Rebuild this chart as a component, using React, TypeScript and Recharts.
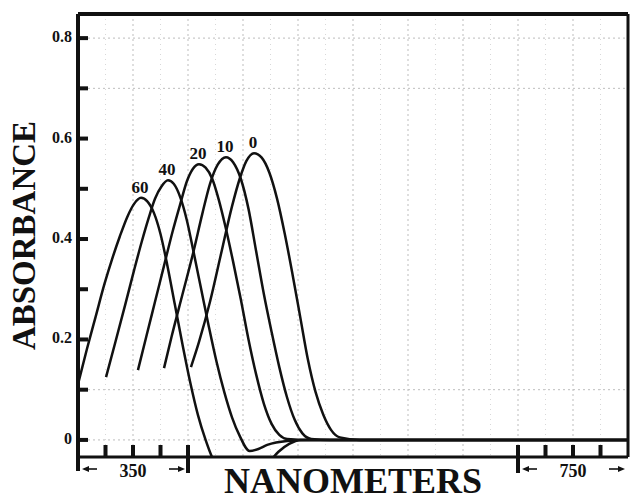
import { CartesianGrid, Line, LineChart, XAxis, YAxis } from "recharts";

// absorbance spectra, one curve per label (wavelength in nm)
const nm60 = [300, 308, 316, 324, 331, 338, 345, 351, 357.3, 363, 369, 375, 381, 388, 395, 402, 409, 416, 423, 432, 450, 468, 482, 492, 502, 800];
const abs60 = [0.111, 0.18, 0.245, 0.31, 0.36, 0.405, 0.445, 0.47, 0.482, 0.475, 0.452, 0.41, 0.35, 0.27, 0.19, 0.115, 0.05, 0, -0.04, -0.07, -0.085, -0.06, -0.024, -0.008, 0, 0];

const nm40 = [325.5, 334, 343, 351, 358, 364, 370, 376, 381.8, 387, 393, 399, 405, 412, 419, 426, 433, 440, 447, 456, 464, 472, 490, 511, 800];
const abs40 = [0.125, 0.195, 0.27, 0.338, 0.395, 0.44, 0.48, 0.505, 0.517, 0.51, 0.483, 0.437, 0.375, 0.3, 0.225, 0.155, 0.095, 0.045, 0.008, -0.022, -0.018, -0.01, -0.002, 0, 0];

const nm20 = [354.5, 362, 370, 378, 386, 393, 399, 404.5, 410, 416, 422, 428, 434, 441, 448, 455, 462, 469, 476, 483, 490, 511, 800];
const abs20 = [0.139, 0.205, 0.275, 0.345, 0.415, 0.47, 0.515, 0.54, 0.549, 0.542, 0.52, 0.478, 0.425, 0.355, 0.28, 0.2, 0.13, 0.072, 0.032, 0.01, 0.002, 0, 0];

const nm10 = [378.2, 385, 395, 405, 413, 420, 427, 434.5, 441, 448, 455, 462, 469, 476, 483, 490, 497, 504, 512, 529, 800];
const abs10 = [0.143, 0.205, 0.29, 0.375, 0.45, 0.51, 0.548, 0.563, 0.553, 0.52, 0.46, 0.375, 0.29, 0.215, 0.145, 0.085, 0.04, 0.013, 0.002, 0, 0];

const nm0 = [402.7, 410, 420, 430, 440, 447, 453, 460, 467, 474, 481, 488, 495, 502, 509, 516, 523, 530, 538, 556, 800];
const abs0 = [0.145, 0.195, 0.275, 0.37, 0.465, 0.52, 0.555, 0.571, 0.562, 0.532, 0.48, 0.41, 0.33, 0.245, 0.16, 0.095, 0.05, 0.02, 0.005, 0, 0];

const xTicks = [300, 325, 350, 375, 400, 700, 725, 750, 775, 800];
const xBigTicks = [400, 700];
const xRangeLabels = ["350", "750"];
const yTicks = [0, 0.1, 0.2, 0.3, 0.4, 0.5, 0.6, 0.7, 0.8];
const yTickLabels = ["0", "", "0.2", "", "0.4", "", "0.6", "", "0.8"];
const gridMajor = [350, 400, 450, 500, 550, 600, 650, 700, 750];
const gridMinor = [325, 375, 425, 475, 525, 575, 625, 675, 725, 775];
const gridRows = [0, 0.1, 0.7, 0.8];

const SERIF = '"Liberation Serif", "Times New Roman", serif';
const INK = "#111";

const toPoints = (nm: number[], abs: number[]) => nm.map((n, i) => ({ nm: n, a: abs[i] }));

const curves = [
  { name: "60", data: toPoints(nm60, abs60) },
  { name: "40", data: toPoints(nm40, abs40) },
  { name: "20", data: toPoints(nm20, abs20) },
  { name: "10", data: toPoints(nm10, abs10) },
  { name: "0", data: toPoints(nm0, abs0) },
];

function peakLabel(name: string, data: { a: number }[]) {
  const peak = data.reduce((best, d, i) => (d.a > data[best].a ? i : best), 0);
  return (props: any) => {
    if (props.index !== peak) return <g key={`d-${name}-${props.index}`} />;
    return (
      <text
        key={`d-${name}-${props.index}`}
        x={props.cx - 1}
        y={props.cy - 5}
        textAnchor="middle"
        fontFamily={SERIF}
        fontWeight="bold"
        fontSize={17}
        fill={INK}
      >
        {name}
      </text>
    );
  };
}

function Arrow({ from, to, y }: { from: number; to: number; y: number }) {
  const dir = to > from ? 1 : -1;
  return (
    <g>
      <line x1={from} y1={y} x2={to - dir * 5} y2={y} stroke={INK} strokeWidth={1.6} />
      <polygon points={`${to},${y} ${to - dir * 7},${y - 3} ${to - dir * 7},${y + 3}`} fill={INK} />
    </g>
  );
}

function XTick(props: any) {
  const { x, y, payload } = props;
  const v = payload.value;
  const idx = xTicks.indexOf(v);
  const arrowY = y + 12;
  return (
    <g>
      {v === 300 ? <rect x={x - 2} y={y} width={4} height={14} fill={INK} /> : null}
      {v !== 300 && v !== 800 ? (
        <rect x={x - 2} y={y - 12} width={4} height={xBigTicks.includes(v) ? 28 : 12} fill={INK} />
      ) : null}
      {v === 300 || v === 700 ? <Arrow from={x + 19} to={x + 4} y={arrowY} /> : null}
      {v === 400 || v === 800 ? <Arrow from={x - 19} to={x - 3} y={arrowY} /> : null}
      {v === 350 || v === 750 ? (
        <text x={x} y={y + 20} textAnchor="middle" fontFamily={SERIF} fontWeight="bold" fontSize={18} fill={INK}>
          {xRangeLabels[idx < 5 ? 0 : 1]}
        </text>
      ) : null}
    </g>
  );
}

function YTick(props: any) {
  const { x, y, payload } = props;
  const label = yTickLabels[yTicks.indexOf(payload.value)];
  return (
    <g>
      <rect x={x} y={y - 2} width={10} height={4} fill={INK} />
      {label ? (
        <text x={x - 6} y={y + 4} textAnchor="end" fontFamily={SERIF} fontWeight="bold" fontSize={16} fill={INK}>
          {label}
        </text>
      ) : null}
    </g>
  );
}

function AbsorbanceLabel(props: any) {
  const vb = props.viewBox || { x: 0, y: 14, width: 78, height: 443 };
  const cx = 35;
  const cy = vb.y + vb.height / 2;
  return (
    <text
      x={cx}
      y={cy}
      transform={`rotate(-90, ${cx}, ${cy})`}
      textAnchor="middle"
      fontFamily={SERIF}
      fontWeight="bold"
      fontSize={33}
      fill={INK}
    >
      ABSORBANCE
    </text>
  );
}

function NanometersLabel(props: any) {
  const vb = props.viewBox || { x: 78, y: 457, width: 550, height: 30 };
  return (
    <text
      x={vb.x + vb.width / 2}
      y={vb.y + 36}
      textAnchor="middle"
      fontFamily={SERIF}
      fontWeight="bold"
      fontSize={36}
      fill={INK}
    >
      NANOMETERS
    </text>
  );
}

export default function App() {
  return (
    <div style={{ position: "absolute", left: 0, top: 0, width: 631, height: 501, background: "#fff" }}>
      <LineChart width={631} height={501} margin={{ top: 4, right: 2, bottom: 14, left: 0 }}>
        <CartesianGrid horizontal={false} verticalValues={gridMinor} stroke="#d8d8d8" strokeDasharray="1 4" />
        <CartesianGrid horizontalValues={gridRows} verticalValues={gridMajor} stroke="#bdbdbd" strokeDasharray="2 3" />
        <XAxis
          type="number"
          dataKey="nm"
          domain={[300, 800]}
          ticks={xTicks}
          interval={0}
          height={30}
          tickLine={false}
          tickSize={0}
          tickMargin={0}
          axisLine={{ stroke: INK, strokeWidth: 3 }}
          tick={XTick}
          allowDataOverflow
          label={NanometersLabel}
        />
        <XAxis
          xAxisId="top"
          orientation="top"
          type="number"
          domain={[300, 800]}
          height={10}
          tick={false}
          tickLine={false}
          axisLine={{ stroke: INK, strokeWidth: 4 }}
        />
        <YAxis
          type="number"
          domain={[-0.034, 0.848]}
          ticks={yTicks}
          interval={0}
          width={78}
          tickLine={false}
          tickSize={0}
          tickMargin={0}
          axisLine={{ stroke: INK, strokeWidth: 4 }}
          tick={YTick}
          allowDataOverflow
          label={AbsorbanceLabel}
        />
        <YAxis
          yAxisId="right"
          orientation="right"
          type="number"
          domain={[-0.034, 0.848]}
          width={1}
          tick={false}
          tickLine={false}
          axisLine={{ stroke: INK, strokeWidth: 3 }}
        />
        {curves.map((c) => (
          <Line
            key={c.name}
            data={c.data}
            dataKey="a"
            type="monotone"
            stroke={INK}
            strokeWidth={2.5}
            dot={peakLabel(c.name, c.data)}
            activeDot={false}
            isAnimationActive={false}
          />
        ))}
      </LineChart>
    </div>
  );
}
